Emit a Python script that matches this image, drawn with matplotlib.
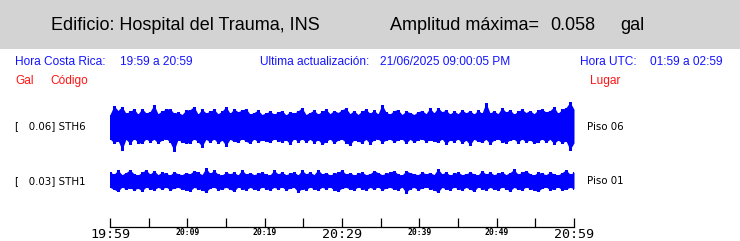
import numpy as np
import matplotlib
matplotlib.use("Agg")
import matplotlib.pyplot as plt
from matplotlib.patches import Rectangle

# ---------------- data ----------------
building = "Edificio: Hospital del Trauma, INS"
max_amp = "0.058"
cr_time = "19:59 a 20:59"
updated = "21/06/2025 09:00:05 PM"
utc_time = "01:59 a 02:59"

stations = ["STH6", "STH1"]
station_peak = [0.06, 0.03]
floors = ["Piso 06", "Piso 01"]

tick_minutes = [0, 5, 10, 15, 20, 25, 30, 35, 40, 45, 50, 55, 60]
tick_labels = ["19:59", "", "20:09", "", "20:19", "", "20:29", "", "20:39", "", "20:49", "", "20:59"]
big_labels = ["19:59", "20:29", "20:59"]

# envelope of each trace (gal), 117 samples across the 60 minutes
sth6_max = [0.030, 0.052, 0.040, 0.050, 0.033, 0.038, 0.044, 0.031, 0.045, 0.034,
            0.037, 0.054, 0.032, 0.039, 0.043, 0.045, 0.033, 0.036, 0.030, 0.041,
            0.042, 0.050, 0.031, 0.043, 0.034, 0.038, 0.043, 0.032, 0.038, 0.050,
            0.033, 0.044, 0.037, 0.041, 0.045, 0.031, 0.035, 0.041, 0.030, 0.034,
            0.038, 0.031, 0.036, 0.040, 0.029, 0.037, 0.033, 0.039, 0.047, 0.030,
            0.035, 0.041, 0.031, 0.038, 0.043, 0.032, 0.040, 0.035, 0.042, 0.046,
            0.032, 0.040, 0.030, 0.039, 0.043, 0.033, 0.041, 0.031, 0.055, 0.036,
            0.031, 0.040, 0.042, 0.030, 0.038, 0.035, 0.030, 0.037, 0.040, 0.032,
            0.046, 0.034, 0.047, 0.037, 0.041, 0.031, 0.039, 0.032, 0.042, 0.034,
            0.040, 0.031, 0.041, 0.033, 0.059, 0.034, 0.039, 0.032, 0.047, 0.036,
            0.042, 0.031, 0.038, 0.043, 0.035, 0.040, 0.032, 0.041, 0.044, 0.036,
            0.040, 0.049, 0.033, 0.043, 0.047, 0.061, 0.043]
sth6_min = [-0.031, -0.041, -0.035, -0.058, -0.032, -0.043, -0.030, -0.040, -0.042, -0.031,
            -0.038, -0.032, -0.041, -0.034, -0.030, -0.039, -0.060, -0.033, -0.038, -0.042,
            -0.040, -0.031, -0.038, -0.050, -0.032, -0.039, -0.031, -0.042, -0.034, -0.048,
            -0.032, -0.037, -0.039, -0.030, -0.037, -0.042, -0.031, -0.039, -0.033, -0.037,
            -0.039, -0.031, -0.035, -0.038, -0.033, -0.044, -0.030, -0.038, -0.031, -0.039,
            -0.032, -0.040, -0.033, -0.044, -0.038, -0.031, -0.042, -0.034, -0.032, -0.040,
            -0.046, -0.033, -0.037, -0.040, -0.032, -0.043, -0.033, -0.031, -0.040, -0.034,
            -0.032, -0.038, -0.034, -0.031, -0.042, -0.032, -0.039, -0.033, -0.031, -0.038,
            -0.033, -0.037, -0.039, -0.031, -0.044, -0.033, -0.038, -0.031, -0.042, -0.034,
            -0.046, -0.032, -0.037, -0.039, -0.032, -0.043, -0.034, -0.031, -0.038, -0.040,
            -0.034, -0.032, -0.040, -0.031, -0.039, -0.033, -0.042, -0.038, -0.031, -0.039,
            -0.032, -0.043, -0.034, -0.041, -0.036, -0.058, -0.041]
sth1_max = [0.022, 0.017, 0.027, 0.016, 0.021, 0.028, 0.018, 0.015, 0.022, 0.028,
            0.017, 0.026, 0.016, 0.022, 0.019, 0.015, 0.023, 0.018, 0.016, 0.021,
            0.018, 0.026, 0.022, 0.016, 0.032, 0.019, 0.027, 0.017, 0.015, 0.022,
            0.018, 0.022, 0.015, 0.028, 0.017, 0.021, 0.016, 0.019, 0.022, 0.017,
            0.015, 0.027, 0.018, 0.022, 0.016, 0.019, 0.023, 0.015, 0.027, 0.018,
            0.022, 0.016, 0.028, 0.018, 0.021, 0.015, 0.019, 0.022, 0.027, 0.017,
            0.021, 0.015, 0.019, 0.022, 0.016, 0.018, 0.026, 0.021, 0.016, 0.019,
            0.022, 0.026, 0.017, 0.015, 0.025, 0.021, 0.018, 0.016, 0.022, 0.018,
            0.021, 0.016, 0.030, 0.018, 0.022, 0.015, 0.019, 0.022, 0.016, 0.018,
            0.022, 0.018, 0.015, 0.026, 0.017, 0.022, 0.016, 0.019, 0.023, 0.016,
            0.021, 0.029, 0.017, 0.022, 0.026, 0.018, 0.015, 0.022, 0.019, 0.016,
            0.022, 0.018, 0.015, 0.021, 0.028, 0.017, 0.022]
sth1_min = [-0.016, -0.021, -0.026, -0.015, -0.020, -0.017, -0.022, -0.018, -0.025, -0.015,
            -0.019, -0.022, -0.016, -0.020, -0.015, -0.022, -0.018, -0.016, -0.020, -0.022,
            -0.025, -0.016, -0.019, -0.022, -0.027, -0.018, -0.015, -0.022, -0.019, -0.016,
            -0.020, -0.026, -0.015, -0.019, -0.022, -0.016, -0.020, -0.022, -0.015, -0.019,
            -0.022, -0.016, -0.019, -0.015, -0.022, -0.018, -0.016, -0.027, -0.019, -0.022,
            -0.015, -0.020, -0.022, -0.016, -0.019, -0.015, -0.022, -0.025, -0.018, -0.016,
            -0.020, -0.022, -0.015, -0.019, -0.022, -0.016, -0.020, -0.015, -0.022, -0.018,
            -0.016, -0.020, -0.022, -0.015, -0.029, -0.019, -0.016, -0.022, -0.018, -0.015,
            -0.019, -0.022, -0.028, -0.016, -0.020, -0.022, -0.015, -0.019, -0.022, -0.016,
            -0.020, -0.026, -0.015, -0.019, -0.022, -0.016, -0.020, -0.022, -0.015, -0.019,
            -0.025, -0.016, -0.020, -0.022, -0.015, -0.019, -0.022, -0.026, -0.018, -0.015,
            -0.022, -0.019, -0.015, -0.022, -0.020, -0.016, -0.019]

# ---------------- layout helpers ----------------
W, H = 740, 241
fig = plt.figure(figsize=(W / 100, H / 100), dpi=100)
fig.patch.set_facecolor("white")


def fx(x):
    return x / W


def fy(y):
    return 1 - y / H


# header band
fig.patches.append(Rectangle((0, fy(49)), 1, 49 / H, transform=fig.transFigure,
                             facecolor="#d3d3d3", edgecolor="none", zorder=0))

hfont = dict(family=["Liberation Sans", "DejaVu Sans"], fontsize=13, color="black", va="baseline")
fig.text(fx(51), fy(30.5), building, **hfont)
fig.text(fx(390), fy(30.5), "Amplitud máxima=", **hfont)
fig.text(fx(550), fy(30.5), max_amp, **hfont)
fig.text(fx(620), fy(30.5), "gal", **hfont)

bfont = dict(family=["Liberation Sans", "DejaVu Sans"], fontsize=8.6, color="#1414ff", va="baseline")
fig.text(fx(15), fy(65), "Hora Costa Rica:", **bfont)
fig.text(fx(120.5), fy(65), cr_time, **bfont)
fig.text(fx(260), fy(65), "Ultima actualización:", **bfont)
fig.text(fx(380), fy(65), updated, **bfont)
fig.text(fx(580.5), fy(65), "Hora UTC:", **bfont)
fig.text(fx(650), fy(65), utc_time, **bfont)

rfont = dict(family=["Liberation Sans", "DejaVu Sans"], fontsize=8.6, color="#ff1414", va="baseline")
fig.text(fx(15), fy(84), "Gal", **rfont)
fig.text(fx(50), fy(84), "Código", **rfont)
fig.text(fx(590), fy(84), "Lugar", **rfont)

# ---------------- traces ----------------
x0, x1 = 110, 574
scale = 400.0  # px per gal
traces = [(sth6_max, sth6_min, 126.5, 27), (sth1_max, sth1_min, 181, 16)]
for k, (hi, lo, yc, half) in enumerate(traces):
    ax = fig.add_axes([fx(x0), fy(yc + half), (x1 - x0) / W, 2 * half / H])
    t = np.linspace(0, 60, len(hi))
    ax.fill_between(t, lo, hi, color="#0000ff", linewidth=0, antialiased=True)
    ax.vlines(t, lo, hi, color="#0000ff", linewidth=1.0, antialiased=False)
    ax.set_xlim(0, 60)
    ax.set_ylim(-half / scale, half / scale)
    ax.axis("off")
    lfont = dict(family="DejaVu Sans", fontsize=7.4, color="black", va="center")
    fig.text(fx(15), fy(yc), "[%7.2f] %s" % (station_peak[k], stations[k]), **lfont)
    fig.text(fx(587), fy(yc), floors[k], **lfont)

# ---------------- time axis ----------------
tax = fig.add_axes([fx(x0), fy(227), (x1 - x0) / W, 10 / H])
tax.set_xlim(0, 60)
tax.set_ylim(0, 1)
for s in ["top", "left", "right"]:
    tax.spines[s].set_visible(False)
tax.spines["bottom"].set_linewidth(0.9)
tax.set_yticks([])
tax.set_xticks(tick_minutes)
tax.set_xticklabels(tick_labels)
tax.tick_params(axis="x", direction="in", length=6.5, width=0.9, pad=0.6)
for lab in tax.get_xticklabels():
    lab.set_fontfamily("DejaVu Sans Mono")
    if lab.get_text() in big_labels:
        lab.set_fontsize(9.6)
    else:
        lab.set_fontweight("bold")
        lab.set_fontsize(5.8)
tax.patch.set_alpha(0)

fig.savefig("out.png", dpi=100)
